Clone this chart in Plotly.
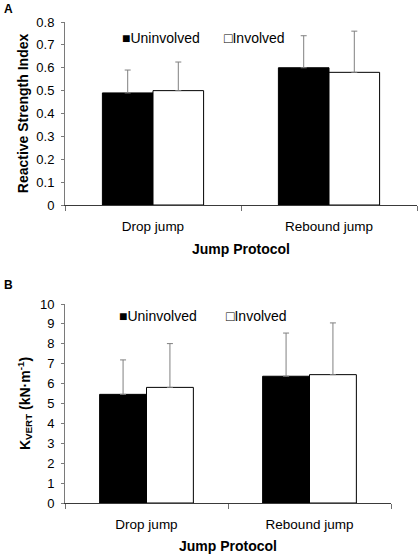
import plotly.graph_objects as go

categories = ["Drop jump", "Rebound jump"]
series_names = ["Uninvolved", "Involved"]
legend_marks = ["■", "□"]

rsi_uninvolved = [0.49, 0.60]
rsi_involved = [0.50, 0.58]
rsi_uninvolved_sd = [0.10, 0.14]
rsi_involved_sd = [0.125, 0.18]

kvert_uninvolved = [5.46, 6.37]
kvert_involved = [5.81, 6.45]
kvert_uninvolved_sd = [1.73, 2.17]
kvert_involved_sd = [2.2, 2.6]

rsi_ticks = [0, 0.1, 0.2, 0.3, 0.4, 0.5, 0.6, 0.7, 0.8]
kvert_ticks = list(range(0, 11))

FONT = "Liberation Sans, Arial, sans-serif"
fills = ["black", "white"]
XAXIS_COLOR = "#3a3a3a"
YAXIS_COLOR = "#7a7a7a"

fig = go.Figure()

def add_bars(vals, sds, xa, ya):
    for name, v, sd, fc in zip(series_names, vals, sds, fills):
        fig.add_trace(go.Bar(
            x=categories, y=v, name=name, xaxis=xa, yaxis=ya, showlegend=False,
            marker=dict(color=fc, line=dict(color="black", width=1)),
            error_y=dict(type="data", symmetric=False, array=sd,
                         arrayminus=[0] * len(sd), color="#808080",
                         thickness=1, width=3),
        ))

add_bars([rsi_uninvolved, rsi_involved], [rsi_uninvolved_sd, rsi_involved_sd], "x", "y")
add_bars([kvert_uninvolved, kvert_involved], [kvert_uninvolved_sd, kvert_involved_sd], "x2", "y2")

W, H = 418, 556
def px_x(p):
    return p / W
def px_y(p):
    return 1 - p / H

axis_common = dict(showline=True, linewidth=1, showgrid=False,
                   zeroline=False, ticks="outside", automargin=False)
xaxis_style = dict(linecolor=XAXIS_COLOR, tickcolor="#707070", **axis_common)
yaxis_style = dict(linecolor=YAXIS_COLOR, tickcolor=YAXIS_COLOR, **axis_common)
ytick_font = dict(family=FONT, size=13, color="black")
xtick_font = dict(family=FONT, size=13.5, color="black")
title_font = dict(family=FONT, size=14, color="black")

annotations = [
    dict(text="<b>A</b>", x=px_x(2), y=1, xref="paper", yref="paper", xanchor="left",
         yanchor="top", showarrow=False, font=dict(size=12, family=FONT)),
    dict(text="<b>B</b>", x=px_x(2), y=px_y(276), xref="paper", yref="paper", xanchor="left",
         yanchor="top", showarrow=False, font=dict(size=12, family=FONT)),
]
# legends (one per panel)
for lx, ly in [((120, 222), 38), ((117, 224), 316)]:
    for name, mark, x0 in zip(series_names, legend_marks, lx):
        annotations.append(dict(text=mark + name, x=px_x(x0), y=px_y(ly), xref="paper",
                                yref="paper", xanchor="left", yanchor="middle",
                                showarrow=False, font=dict(size=14, family=FONT)))

fig.update_layout(
    width=W, height=H, margin=dict(l=0, r=0, t=0, b=0, autoexpand=False),
    plot_bgcolor="white", paper_bgcolor="white",
    barmode="group", bargap=0.425, bargroupgap=0, showlegend=False,
    font=dict(family=FONT, color="black"),
    xaxis=dict(domain=[px_x(65), px_x(417)], anchor="y", type="category",
               tickson="boundaries", ticklen=5, ticklabelstandoff=9, tickfont=xtick_font,
               title=dict(text="<b>Jump Protocol</b>", font=title_font, standoff=10),
               **xaxis_style),
    yaxis=dict(domain=[px_y(205), px_y(22)], anchor="x", range=[0, 0.8],
               tickvals=rsi_ticks, ticktext=[f"{t:g}" for t in rsi_ticks], ticklen=3,
               ticklabelstandoff=4, tickfont=ytick_font,
               title=dict(text="<b>Reactive Strength Index</b>", font=title_font, standoff=4),
               **yaxis_style),
    xaxis2=dict(domain=[px_x(65), px_x(391)], anchor="y2", type="category",
                tickson="boundaries", ticklen=5, ticklabelstandoff=9, tickfont=xtick_font,
                title=dict(text="<b>Jump Protocol</b>", font=title_font, standoff=9),
                **xaxis_style),
    yaxis2=dict(domain=[px_y(503), px_y(304)], anchor="x2", range=[0, 10],
                tickvals=kvert_ticks, ticklen=3, ticklabelstandoff=4, tickfont=ytick_font,
                title=dict(text="<b>K<sub>VERT</sub> (kN·m<sup>-1</sup>)</b>", font=title_font, standoff=6),
                **yaxis_style),
    annotations=annotations,
)

fig.write_html("out.html", config={"displayModeBar": False},
               post_script="document.body.style.margin='0';")
